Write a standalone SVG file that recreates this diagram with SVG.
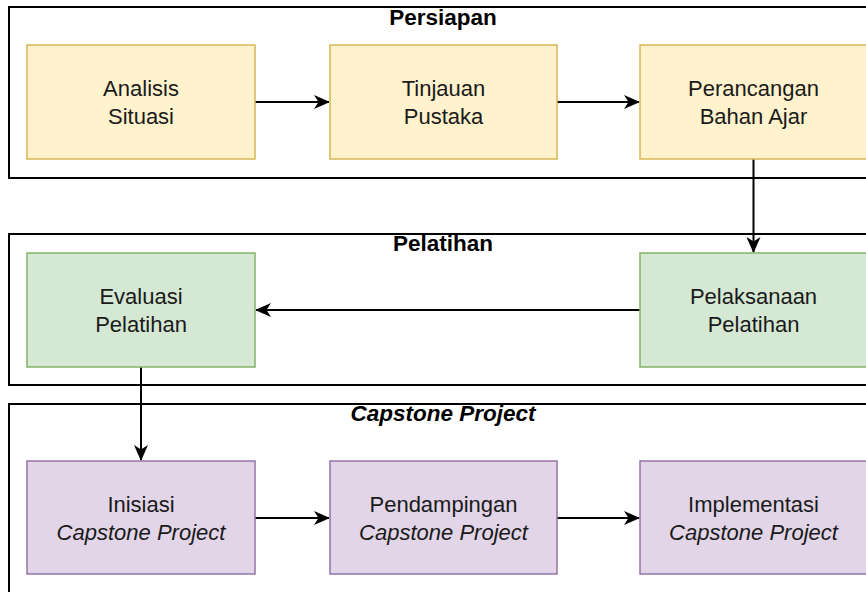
<svg xmlns="http://www.w3.org/2000/svg" width="866" height="592" viewBox="0 0 866 592">
<defs>
<style>
.cont{fill:none;stroke:#000;stroke-width:2}
.title{font-family:"Liberation Sans",Arial,sans-serif;font-size:22.5px;font-weight:bold;text-anchor:middle;fill:#000}
.lbl{font-family:"Liberation Sans",Arial,sans-serif;font-size:22px;text-anchor:middle;fill:#1a1a1a}
.it{font-style:italic}
.y{fill:#fff2cc;stroke:#d6b656;stroke-width:1.5}
.g{fill:#d5e8d4;stroke:#82b366;stroke-width:1.5}
.p{fill:#e1d5e7;stroke:#9673a6;stroke-width:1.5}
.edge{fill:none;stroke:#000;stroke-width:2;marker-end:url(#arr)}
</style>
<marker id="arr" viewBox="0 0 16 14" refX="15" refY="7" markerWidth="16" markerHeight="14" markerUnits="userSpaceOnUse" orient="auto">
<path d="M0,0 L16,7 L0,14 L4.5,7 Z" fill="#000"/>
</marker>
</defs>
<rect width="866" height="592" fill="#fff"/>
<g id="persiapan">
<rect class="cont" x="9" y="7" width="870" height="171"/>
<text class="title" x="443" y="25">Persiapan</text>
</g>
<g id="pelatihan">
<rect class="cont" x="9" y="234" width="870" height="151"/>
<text class="title" x="443" y="251">Pelatihan</text>
</g>
<g id="capstone">
<rect class="cont" x="9" y="404" width="870" height="200"/>
<text class="title it" x="443" y="421">Capstone Project</text>
</g>
<g id="connectors">
<path class="edge" d="M255,102 L329,102"/>
<path class="edge" d="M557,102 L639,102"/>
<path class="edge" d="M753.5,159 L753.5,252"/>
<path class="edge" d="M640,310 L256,310"/>
<path class="edge" d="M141,367 L141,460"/>
<path class="edge" d="M255,518 L329,518"/>
<path class="edge" d="M557,518 L639,518"/>
</g>
<g id="analisis">
<rect class="y" x="27" y="45" width="228" height="114"/>
<text class="lbl" x="141" y="96">Analisis</text>
<text class="lbl" x="141" y="124">Situasi</text>
</g>
<g id="tinjauan">
<rect class="y" x="330" y="45" width="227" height="114"/>
<text class="lbl" x="443.5" y="96">Tinjauan</text>
<text class="lbl" x="443.5" y="124">Pustaka</text>
</g>
<g id="perancangan">
<rect class="y" x="640" y="45" width="227" height="114"/>
<text class="lbl" x="753.5" y="96">Perancangan</text>
<text class="lbl" x="753.5" y="124">Bahan Ajar</text>
</g>
<g id="pelaksanaan">
<rect class="g" x="640" y="253" width="227" height="114"/>
<text class="lbl" x="753.5" y="304">Pelaksanaan</text>
<text class="lbl" x="753.5" y="332">Pelatihan</text>
</g>
<g id="evaluasi">
<rect class="g" x="27" y="253" width="228" height="114"/>
<text class="lbl" x="141" y="304">Evaluasi</text>
<text class="lbl" x="141" y="332">Pelatihan</text>
</g>
<g id="inisiasi">
<rect class="p" x="27" y="461" width="228" height="113"/>
<text class="lbl" x="141" y="512">Inisiasi</text>
<text class="lbl it" x="141" y="540">Capstone Project</text>
</g>
<g id="pendampingan">
<rect class="p" x="330" y="461" width="227" height="113"/>
<text class="lbl" x="443.5" y="512">Pendampingan</text>
<text class="lbl it" x="443.5" y="540">Capstone Project</text>
</g>
<g id="implementasi">
<rect class="p" x="640" y="461" width="227" height="113"/>
<text class="lbl" x="753.5" y="512">Implementasi</text>
<text class="lbl it" x="753.5" y="540">Capstone Project</text>
</g>
</svg>
